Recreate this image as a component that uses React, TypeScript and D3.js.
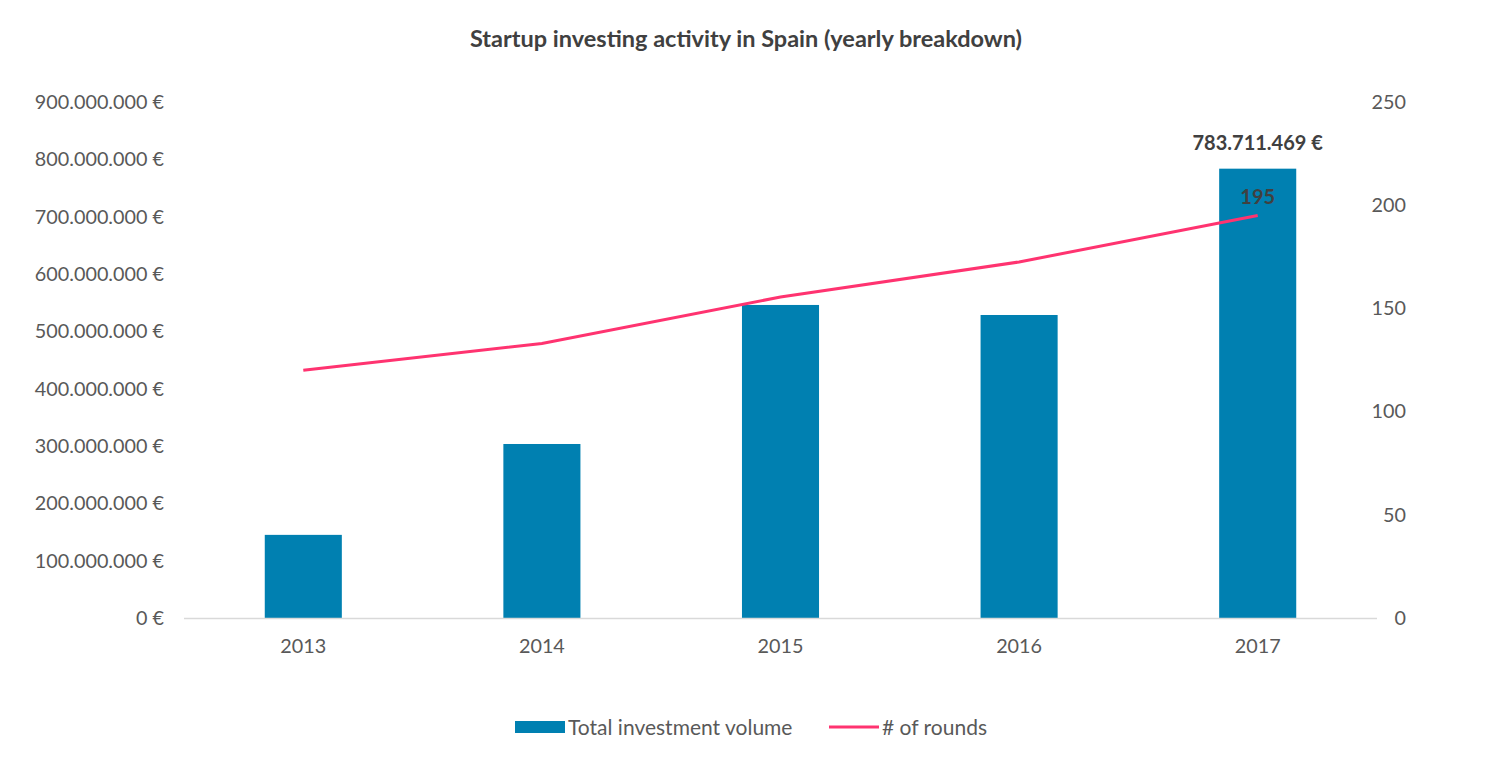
import { useEffect, useRef } from 'react';
import * as d3 from 'd3';

// chart values
const years: string[] = ['2013', '2014', '2015', '2016', '2017'];
const volume: number[] = [145000000, 303500000, 546000000, 528500000, 783711469];
const rounds: number[] = [120, 133, 155.5, 172.5, 195];
const leftTicks: number[] = [0, 100e6, 200e6, 300e6, 400e6, 500e6, 600e6, 700e6, 800e6, 900e6];
const rightTicks: number[] = [0, 50, 100, 150, 200, 250];

const FONT = 'Lato, "Open Sans", sans-serif';
const TEXT = '#595959';
const BAR = '#0080b1';
const LINE = '#ff3370';

const fmtEuro = (v: number) =>
  d3.format(',')(v).replace(/,/g, '.') + ' €';

const App: React.FC = () => {
  const svgRef = useRef<SVGSVGElement | null>(null);

  useEffect(() => {
    if (!svgRef.current) return;

    const width = 1494;
    const height = 759;
    const left = 184;
    const right = 1377;
    const top = 102;
    const bottom = 618;

    const svg = d3.select(svgRef.current);
    svg.selectAll('*').remove();

    const x = d3
      .scaleBand()
      .domain(years)
      .range([left, right])
      .paddingInner(0.677)
      .paddingOuter(0.3385);

    const y = d3.scaleLinear().domain([0, 900e6]).range([bottom, top]);
    const y2 = d3.scaleLinear().domain([0, 250]).range([bottom, top]);

    svg.attr('width', width).attr('height', height);

    // title
    svg
      .append('text')
      .attr('x', 746)
      .attr('y', 47)
      .attr('text-anchor', 'middle')
      .attr('font-family', FONT)
      .attr('font-weight', 'bold')
      .attr('font-size', 23.5)
      .attr('fill', '#404040')
      .text('Startup investing activity in Spain (yearly breakdown)');

    // left axis
    const gl = svg
      .append('g')
      .attr('transform', `translate(${left - 17},0)`)
      .call(d3.axisLeft(y).tickValues(leftTicks).tickSize(0).tickFormat((d) => fmtEuro(+d)));
    gl.select('.domain').remove();
    gl.selectAll('text')
      .attr('font-family', FONT)
      .attr('font-size', 19.8)
      .attr('fill', TEXT);

    // right axis
    const gr = svg
      .append('g')
      .attr('transform', `translate(${right + 29},0)`)
      .call(d3.axisLeft(y2).tickValues(rightTicks).tickSize(0));
    gr.select('.domain').remove();
    gr.selectAll('text')
      .attr('font-family', FONT)
      .attr('font-size', 19.8)
      .attr('fill', TEXT)
      .attr('x', 0);

    // bars
    svg
      .selectAll('.bar')
      .data(volume)
      .enter()
      .append('rect')
      .attr('class', 'bar')
      .attr('x', (_, i) => x(years[i]) ?? 0)
      .attr('y', (d) => y(d))
      .attr('width', x.bandwidth())
      .attr('height', (d) => bottom - y(d))
      .attr('fill', BAR);

    // baseline
    svg
      .append('line')
      .attr('x1', left)
      .attr('x2', right)
      .attr('y1', bottom + 0.5)
      .attr('y2', bottom + 0.5)
      .attr('stroke', '#d9d9d9')
      .attr('stroke-width', 1.5);

    // x axis labels
    const gx = svg
      .append('g')
      .attr('transform', `translate(0,${bottom + 18})`)
      .call(d3.axisBottom(x).tickSize(0));
    gx.select('.domain').remove();
    gx.selectAll('text')
      .attr('font-family', FONT)
      .attr('font-size', 19.8)
      .attr('fill', TEXT);

    // line
    const cx = (i: number) => (x(years[i]) ?? 0) + x.bandwidth() / 2;
    const line = d3
      .line<number>()
      .x((_, i) => cx(i))
      .y((d) => y2(d));
    svg
      .append('path')
      .datum(rounds)
      .attr('d', line)
      .attr('fill', 'none')
      .attr('stroke', LINE)
      .attr('stroke-width', 3);

    // data labels for 2017
    const last = years.length - 1;
    svg
      .append('text')
      .attr('x', cx(last))
      .attr('y', y(volume[last]) - 19)
      .attr('text-anchor', 'middle')
      .attr('font-family', FONT)
      .attr('font-weight', 'bold')
      .attr('font-size', 20)
      .attr('fill', '#404040')
      .text(fmtEuro(volume[last]));
    svg
      .append('text')
      .attr('x', cx(last))
      .attr('y', y2(rounds[last]) - 12)
      .attr('text-anchor', 'middle')
      .attr('font-family', FONT)
      .attr('font-weight', 'bold')
      .attr('font-size', 20)
      .attr('fill', '#404040')
      .text(String(rounds[last]));

    // legend
    const lg = svg.append('g').attr('font-family', FONT).attr('font-size', 21).attr('fill', TEXT);
    lg.append('rect').attr('x', 515).attr('y', 721).attr('width', 50).attr('height', 12).attr('fill', BAR);
    lg.append('text').attr('x', 568).attr('y', 735).text('Total investment volume');
    lg.append('line')
      .attr('x1', 829)
      .attr('x2', 879)
      .attr('y1', 727)
      .attr('y2', 727)
      .attr('stroke', LINE)
      .attr('stroke-width', 3);
    lg.append('text').attr('x', 882).attr('y', 735).text('# of rounds');
  }, []);

  return (
    <div style={{ margin: -8 }}>
      <svg ref={svgRef} width={1494} height={759}></svg>
    </div>
  );
};

export default App;
